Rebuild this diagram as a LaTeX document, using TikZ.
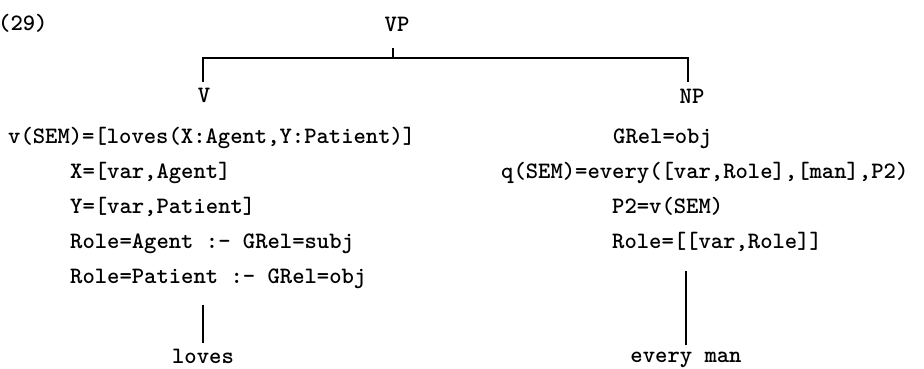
\documentclass[tikz,border=0pt]{standalone}
\usepackage{fontspec}
\begin{document}
\begin{tikzpicture}[x=1pt,y=-1pt,
  txt/.style={font=\ttfamily\bfseries\fontsize{23.5}{28}\selectfont, inner sep=0pt},
  branch/.style={line width=1.2pt}]
\useasboundingbox (0,0) rectangle (924,368);
% labels
\node[txt, anchor=base west] (ex) at (-2,30) {(29)};
\node[txt, anchor=base] (vp) at (397,31) {VP};
\node[txt, anchor=base] (v) at (204,102) {V};
\node[txt, anchor=base] (np) at (692,103) {NP};
% left block
\node[txt, anchor=base west] (l1) at (8,143) {v(SEM)=[loves(X:Agent,Y:Patient)]};
\node[txt, anchor=base west] (l2) at (70,178) {X=[var,Agent]};
\node[txt, anchor=base west] (l3) at (70,213) {Y=[var,Patient]};
\node[txt, anchor=base west] (l4) at (70,248) {Role=Agent :- GRel=subj};
\node[txt, anchor=base west] (l5) at (70,283) {Role=Patient :- GRel=obj};
% right block
\node[txt, anchor=base west] (r1) at (613,143) {GRel=obj};
\node[txt, anchor=base west] (r2) at (501,178) {q(SEM)=every([var,Role],[man],P2)};
\node[txt, anchor=base west] (r3) at (612,213) {P2=v(SEM)};
\node[txt, anchor=base west] (r4) at (612,248) {Role=[[var,Role]]};
% leaves
\node[txt, anchor=base] (loves) at (203,363) {loves};
\node[txt, anchor=base] (every) at (686,362) {every man};
% tree connectors
\coordinate (tick) at (393,48);
\coordinate (bar) at (393,58);
\coordinate (vtop) at (203,82);
\coordinate (nptop) at (688,82);
\draw[branch] (vtop) |- (bar) -| (nptop);
\draw[branch] (tick) -- (bar);
\coordinate (la) at (203,305);
\coordinate (lb) at (203,343);
\coordinate (ra) at (686,271);
\coordinate (rb) at (686,345);
\draw[branch] (la) -- (lb);
\draw[branch] (ra) -- (rb);
\end{tikzpicture}
\end{document}
